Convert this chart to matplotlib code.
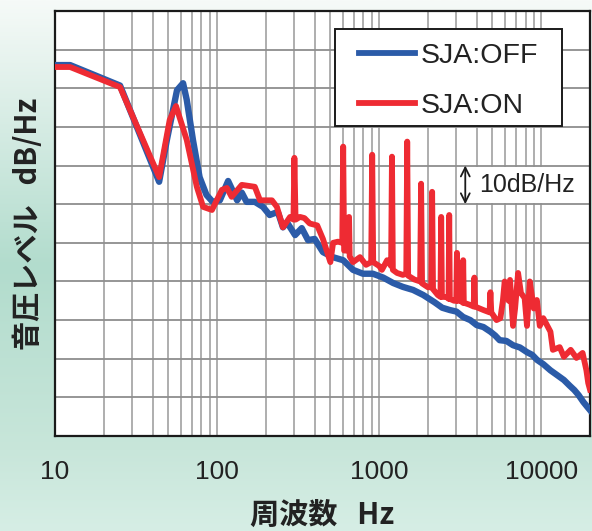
import numpy as np
import matplotlib.pyplot as plt
from matplotlib.colors import LinearSegmentedColormap
from matplotlib.patches import Rectangle

# SJA:OFF (blue)
off_f = [10, 12.4, 25.2, 43.9, 49, 56.6, 61.7, 65, 71, 78, 86, 94,
         104, 117, 133, 142, 152, 171, 192, 211, 237, 255, 270, 303, 333, 364,
         400, 450, 517, 600, 690, 795, 915, 1060, 1220, 1400, 1620, 1870,
         2200, 2450, 2730, 3000, 3300, 3650, 4000, 4400, 4860, 5200, 5540, 6100,
         6700, 7400, 8170, 8800, 9430, 10300, 11400, 12500, 13800, 15000,
         16000, 17000, 18200, 19200, 20000]
off_db = [96.0, 96.0, 90.7, 65.8, 76.6, 89.5, 91.3, 87.0, 76.6, 67.0, 62.4, 60.6,
          61.0, 66.0, 61.0, 63.0, 60.6, 60.6, 59.3, 57.2, 58.0, 54.0, 55.3, 52.0, 53.8, 50.7,
          51.0, 47.6, 46.3, 45.5, 43.0, 42.0, 42.0, 41.0, 39.6, 38.6, 37.8, 36.5,
          34.6, 33.2, 32.6, 32.2, 30.8, 30.0, 28.7, 28.2, 27.0, 26.0, 24.8, 24.6,
          23.5, 22.9, 21.7, 21.0, 19.7, 18.6, 17.0, 15.8, 14.5, 13.0,
          11.9, 10.6, 8.8, 7.6, 6.7]

# SJA:ON (red)
on_f = [10, 12.4, 25.2, 43.9, 51, 55.8, 65, 75, 82, 93,
        107, 115, 123, 142, 171, 184, 218, 234, 255, 282,
        296, 300, 305, 325, 346, 373, 415, 450, 500, 520,
        557, 592, 600, 608, 640, 648, 652, 658, 690, 762,
        830, 893, 906, 919, 1000, 1040, 1120, 1185, 1200, 1215,
        1290, 1400, 1470, 1490, 1510, 1650, 1790, 1815, 1840, 2000,
        2095, 2123, 2150, 2300, 2390, 2414, 2440, 2600, 2680, 2706,
        2730, 2900, 2990, 3020, 3050, 3200, 3280, 3300, 3330, 3600,
        3830, 3870, 3910, 4400, 4800, 4860, 4920, 5300, 5600, 5800,
        5950, 6100, 6300, 6420, 6700, 6900, 7200, 7500, 7900, 8170,
        8500, 9000, 9400, 9800, 10300, 11400, 11800, 13000, 13800, 15200,
        16500, 18000, 19000, 19500, 20000]
on_db = [95.5, 95.5, 90.3, 67.0, 81.8, 85.4, 76.6, 64.5, 59.3, 58.5,
         63.7, 64.2, 61.9, 65.0, 64.5, 61.0, 61.0, 59.3, 54.0, 56.7,
         56.0, 72.0, 56.0, 56.7, 56.4, 55.0, 54.5, 51.0, 45.0, 50.0,
         50.3, 50.0, 74.9, 48.0, 48.0, 48.0, 56.7, 46.5, 45.0, 46.3,
         44.3, 45.0, 72.8, 45.0, 44.0, 43.0, 45.5, 44.0, 72.3, 43.0,
         42.2, 41.7, 42.0, 76.2, 41.5, 40.5, 40.0, 65.3, 39.5, 38.5,
         38.5, 63.2, 38.0, 36.5, 36.0, 56.7, 36.0, 36.0, 35.5, 57.2,
         35.5, 35.0, 35.0, 47.4, 35.0, 35.0, 34.5, 45.5, 34.5, 34.0,
         33.5, 41.0, 33.5, 32.6, 32.0, 37.2, 32.0, 30.0, 30.5, 35.0,
         40.0, 38.0, 35.0, 40.4, 28.5, 33.0, 42.2, 37.0, 35.7, 28.5,
         40.0, 33.0, 35.2, 28.5, 30.5, 27.0, 22.3, 23.0, 20.5, 22.3,
         20.2, 21.5, 17.0, 13.7, 12.0]

xticks = [10, 100, 1000, 10000]
xtick_labels = ['10', '100', '1000', '10000']

blue = '#2b5ba8'
red = '#ee2b33'
cjk = ['Noto Sans CJK JP', 'DejaVu Sans']

fig = plt.figure(figsize=(5.92, 5.31), dpi=100)

# background gradient
bg = fig.add_axes([0, 0, 1, 1], zorder=-10)
cmap = LinearSegmentedColormap.from_list(
    'bg', [(0, '#f6faf8'), (0.5, '#b2dccd'), (0.85, '#c8e6da'), (1, '#d6eee5')])
bg.imshow(np.linspace(0, 1, 256).reshape(-1, 1), aspect='auto', cmap=cmap,
          extent=[0, 1, 0, 1])
bg.axis('off')

ax = fig.add_axes([55 / 592, 1 - 436 / 531, 535 / 592, 425 / 531])
ax.set_facecolor('white')
ax.set_xscale('log')
ax.set_xlim(10, 20000)
ax.set_ylim(0, 110)
ax.set_yticks(np.arange(0, 111, 10))
ax.set_yticklabels([])
ax.set_xticks(xticks)
ax.set_xticklabels(xtick_labels, fontsize=19, family='Liberation Sans', color='#222222')
ax.tick_params(axis='both', which='both', length=0)
ax.tick_params(axis='x', pad=17)
ax.grid(True, which='major', axis='y', color='#8e8e8e', lw=1.3)
ax.grid(True, which='both', axis='x', color='#a8a8a8', lw=1.3)
ax.set_axisbelow(True)
for s in ax.spines.values():
    s.set_linewidth(1.6)
    s.set_color('#1a1a1a')

ax.plot(off_f, off_db, color=blue, lw=4.6, label='SJA:OFF', solid_joinstyle='round', zorder=3)
ax.plot(on_f, on_db, color=red, lw=4.2, label='SJA:ON', solid_joinstyle='round', zorder=4)

# legend: frame drawn separately, entries centred in it
ax.add_patch(Rectangle((0.5234, 0.7294), 0.4243, 0.2282, transform=ax.transAxes,
                       facecolor='white', edgecolor='#1a1a1a', lw=1.4, zorder=6))
leg = ax.legend(loc='center', bbox_to_anchor=(0.7355, 0.835), borderaxespad=0,
                prop={'family': 'Liberation Sans', 'size': 20.5}, frameon=False,
                handlelength=1.95, handletextpad=0.2, labelspacing=0.85, borderpad=0.2)
leg.set_zorder(7)
for t in leg.get_texts():
    t.set_color('#222222')
for h in leg.get_lines():
    h.set_linewidth(4.2)

# 10dB/Hz scale marker
ax.add_patch(Rectangle((0.751, 60.4 / 110), 0.23, 9.2 / 110, transform=ax.transAxes,
                       facecolor='white', edgecolor='none', zorder=2))
ax.annotate('', xy=(3400, 70), xytext=(3400, 60),
            arrowprops=dict(arrowstyle='<->', lw=1.3, color='#1a1a1a', mutation_scale=16,
                            shrinkA=0, shrinkB=0), zorder=5)
ax.text(4150, 65, '10dB/Hz', fontsize=18, family='Liberation Sans', color='#222222',
        ha='left', va='center', zorder=5)

ax.set_xlabel('周波数   Hz', fontsize=21, fontweight='bold', family=cjk,
              color='#222222', labelpad=12)
ax.set_ylabel('音圧レベル   dB/Hz', fontsize=21, fontweight='bold', family=cjk,
              color='#222222', labelpad=5)

plt.savefig('out.png', dpi=100)
